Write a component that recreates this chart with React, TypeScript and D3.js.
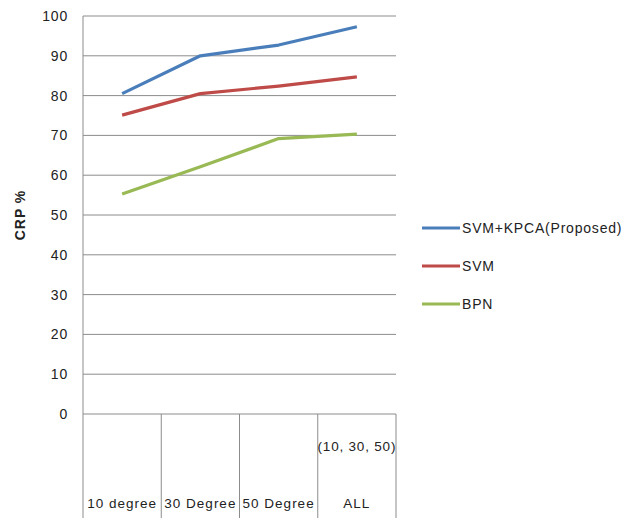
import React from "react";
import * as d3 from "d3";

const categories = ["10 degree", "30 Degree", "50 Degree", "ALL"];
const categoryTopLabels = ["", "", "", "(10, 30, 50)"];
const yTicks = [0, 10, 20, 30, 40, 50, 60, 70, 80, 90, 100];

const seriesNames = ["SVM+KPCA(Proposed)", "SVM", "BPN"];
const seriesColors = ["#4a7ebb", "#be4b48", "#98b954"];
const svmKpca = [80.5, 90, 92.7, 97.3];
const svm = [75.1, 80.5, 82.4, 84.7];
const bpn = [55.3, 62.1, 69.2, 70.3];
const seriesValues = [svmKpca, svm, bpn];

const W = 624;
const H = 518;
const margin = { top: 16, right: 228, bottom: 104, left: 83 };
const font = "'Liberation Sans', Arial, sans-serif";

const App: React.FC = () => {
  const x = d3.scaleBand()
    .domain(categories)
    .range([margin.left, W - margin.right]);

  const y = d3.scaleLinear()
    .domain([0, 100])
    .range([H - margin.bottom, margin.top]);

  const line = d3.line<number>()
    .x((_, i) => x(categories[i])! + x.bandwidth() / 2)
    .y(d => y(d));

  const x0 = margin.left;
  const x1 = W - margin.right;
  const base = y(0);

  // legend rows
  const legendY = d3.scaleLinear().domain([0, 1]).range([228, 266]);

  return (
    <div style={{ position: "absolute", left: 0, top: 0 }}>
      <svg width={W} height={H} style={{ display: "block", background: "#fff" }}>
        {/* gridlines */}
        {yTicks.map(t => (
          <line key={t} x1={x0} x2={x1} y1={y(t)} y2={y(t)} stroke="#8c8c8c" strokeWidth={1} />
        ))}
        {/* y axis */}
        <line x1={x0} x2={x0} y1={y(100)} y2={H} stroke="#8c8c8c" />
        {/* category dividers below axis */}
        {categories.map(c => (
          <line key={c} x1={x(c)! + x.bandwidth()} x2={x(c)! + x.bandwidth()} y1={base} y2={H} stroke="#8c8c8c" />
        ))}
        {/* y tick labels */}
        {yTicks.map(t => (
          <text key={t} x={68} y={y(t)} dy="0.35em" textAnchor="end" fontFamily={font} fontSize={14} letterSpacing={0.8} fill="#222">
            {t}
          </text>
        ))}
        {/* y axis title */}
        <text
          transform={`translate(25,${y(50)}) rotate(-90)`}
          textAnchor="middle"
          fontFamily={font}
          fontSize={14}
          fontWeight="bold"
          letterSpacing={1}
          fill="#222"
        >
          CRP %
        </text>
        {/* category labels */}
        {categories.map((c, i) => (
          <g key={c}>
            <text x={x(c)! + x.bandwidth() / 2} y={508} textAnchor="middle" fontFamily={font} fontSize={13.5} letterSpacing={1} fill="#222">
              {c}
            </text>
            {categoryTopLabels[i] && (
              <text x={x(c)! + x.bandwidth() / 2} y={451} textAnchor="middle" fontFamily={font} fontSize={13.5} letterSpacing={0.8} fill="#222">
                {categoryTopLabels[i]}
              </text>
            )}
          </g>
        ))}
        {/* series */}
        {seriesValues.map((vals, i) => (
          <path key={seriesNames[i]} d={line(vals)!} fill="none" stroke={seriesColors[i]} strokeWidth={3.2} strokeLinejoin="round" />
        ))}
        {/* legend */}
        {seriesNames.map((n, i) => (
          <g key={n} transform={`translate(0,${legendY(i)})`}>
            <line x1={422} x2={460} y1={0} y2={0} stroke={seriesColors[i]} strokeWidth={3} />
            <text x={462} y={0} dy="0.35em" fontFamily={font} fontSize={14} letterSpacing={0.8} fill="#222">
              {n}
            </text>
          </g>
        ))}
      </svg>
    </div>
  );
};

export default App;
